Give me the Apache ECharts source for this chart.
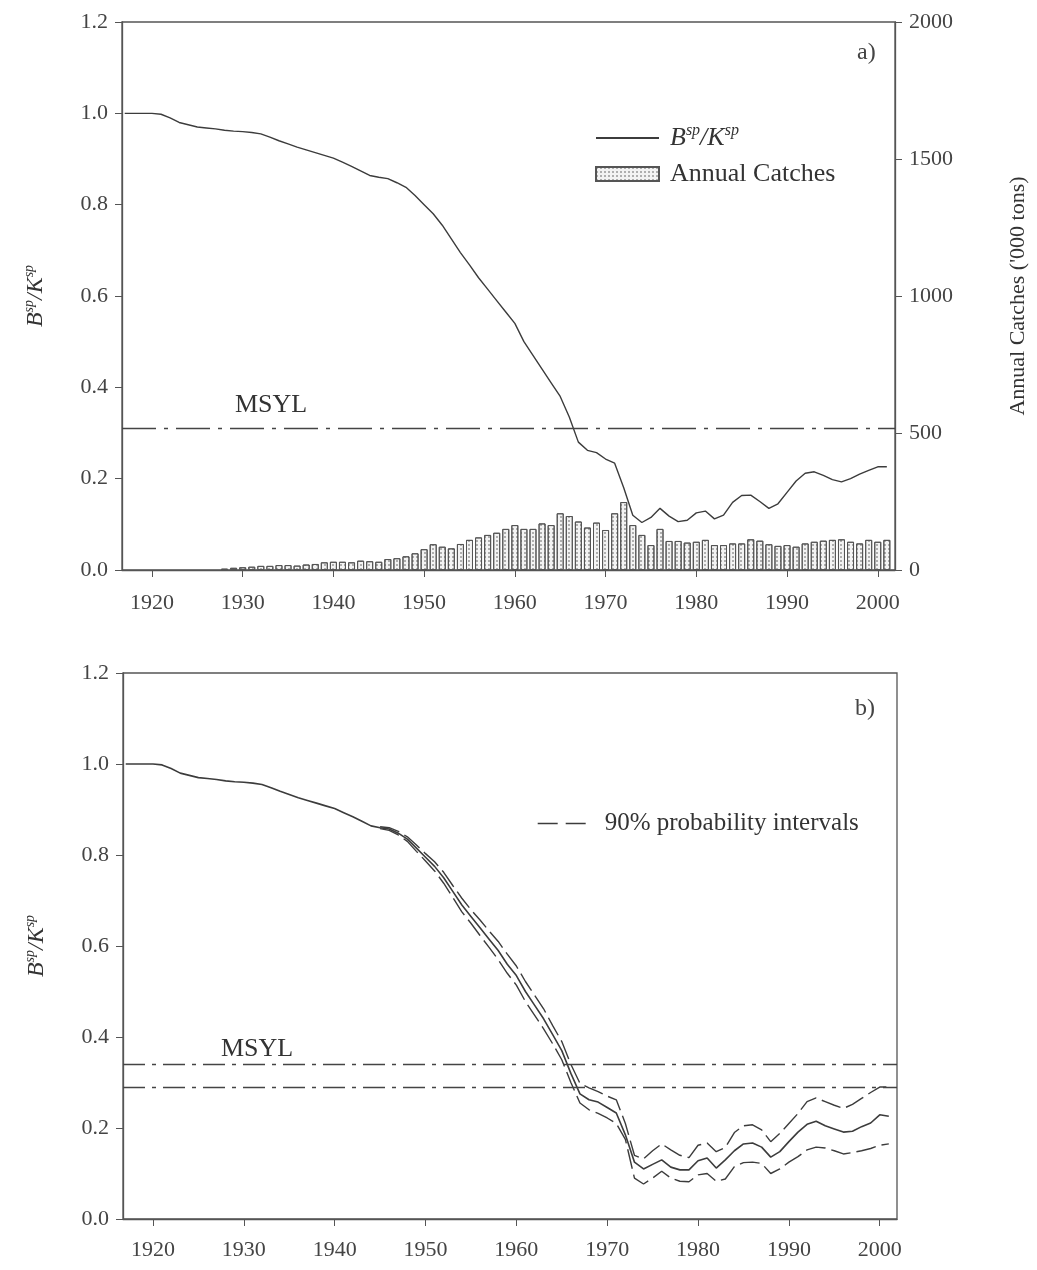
<!DOCTYPE html>
<html>
<head>
<meta charset="utf-8">
<script src="https://cdn.jsdelivr.net/npm/echarts@6/dist/echarts.min.js"></script>
<style>
html,body{margin:0;padding:0;background:#fff;}
#chart{width:1037px;height:1270px;}
</style>
</head>
<body>
<div id="chart"></div>
<script>
// ---------- DATA ----------
var yearTicks = [1920,1930,1940,1950,1960,1970,1980,1990,2000];
var bkYears = [];
for (var y = 1917; y <= 2001; y++) bkYears.push(y);

// panel a) B^sp/K^sp, 1917..2001
var bkA = [1.0,1.0,1.0,1.0,0.998,0.99,0.98,0.975,0.97,0.968,0.966,0.963,0.961,0.96,0.958,0.955,0.948,0.94,0.933,0.926,0.92,0.914,0.908,0.902,0.893,0.884,0.874,0.864,0.86,0.857,0.848,0.838,0.82,0.80,0.78,0.755,0.725,0.695,0.668,0.64,0.615,0.59,0.565,0.54,0.50,0.47,0.44,0.41,0.38,0.335,0.28,0.262,0.257,0.243,0.234,0.18,0.12,0.104,0.115,0.135,0.118,0.106,0.109,0.125,0.129,0.112,0.12,0.148,0.163,0.164,0.15,0.135,0.145,0.17,0.195,0.212,0.215,0.207,0.198,0.193,0.2,0.21,0.218,0.226,0.226];

// annual catches ('000 tons), 1928..2001
var catchYears = [];
for (var c = 1928; c <= 2001; c++) catchYears.push(c);
var catches = [5,8,10,12,15,15,18,18,16,20,22,28,30,30,28,34,32,30,40,43,50,61,76,94,85,79,95,110,119,128,136,150,164,150,150,170,164,207,197,177,155,173,146,207,248,164,128,91,150,106,106,100,103,110,91,91,97,97,112,107,94,88,91,85,97,103,107,110,112,103,97,110,103,110];

// panel b) median, 1917..2001
var bkB = [1.0,1.0,1.0,1.0,0.998,0.99,0.98,0.975,0.97,0.968,0.966,0.963,0.961,0.96,0.958,0.955,0.948,0.94,0.933,0.926,0.92,0.914,0.908,0.902,0.893,0.884,0.874,0.864,0.86,0.857,0.848,0.835,0.815,0.795,0.775,0.75,0.72,0.69,0.665,0.64,0.615,0.59,0.56,0.535,0.5,0.47,0.44,0.405,0.37,0.32,0.275,0.262,0.257,0.245,0.233,0.185,0.125,0.11,0.12,0.13,0.114,0.108,0.108,0.128,0.134,0.112,0.13,0.15,0.165,0.167,0.158,0.136,0.148,0.17,0.191,0.208,0.215,0.205,0.198,0.191,0.193,0.203,0.211,0.229,0.226];

// 90% probability intervals, 1945..2001
var ciYears = [];
for (var k = 1945; k <= 2001; k++) ciYears.push(k);
var ciUpper = [0.862,0.86,0.852,0.84,0.822,0.803,0.785,0.762,0.733,0.705,0.68,0.657,0.633,0.61,0.582,0.556,0.522,0.492,0.462,0.425,0.39,0.34,0.298,0.288,0.28,0.27,0.262,0.21,0.14,0.132,0.15,0.165,0.152,0.14,0.135,0.162,0.167,0.148,0.157,0.19,0.205,0.207,0.196,0.17,0.188,0.21,0.232,0.258,0.266,0.258,0.25,0.243,0.252,0.265,0.278,0.29,0.29];
var ciLower = [0.858,0.854,0.844,0.83,0.808,0.787,0.765,0.738,0.707,0.675,0.65,0.623,0.597,0.57,0.54,0.514,0.478,0.448,0.418,0.385,0.35,0.3,0.255,0.24,0.232,0.222,0.21,0.175,0.09,0.077,0.09,0.105,0.09,0.083,0.082,0.097,0.1,0.083,0.088,0.115,0.124,0.125,0.122,0.1,0.11,0.125,0.137,0.152,0.158,0.156,0.15,0.143,0.146,0.15,0.155,0.162,0.165];

var msylA = 0.313;
var msylB = [0.338, 0.286];

// ---------- CHART ----------
function pairs(xs, ys){ return xs.map(function(x,i){ return [x, ys[i]]; }); }

var FONT = 'Liberation Serif';
var INK = '#3c3c3c';
var AXC = '#555';
var CI_DASH = [20,6];
var HIDDEN_SYMBOL = {color:'rgba(0,0,0,0)', borderColor:'rgba(0,0,0,0)', borderWidth:0, opacity:0};
var bkName = '{i|B}{s|sp}{i|/K}{s|sp}';
function bkRich(sz){
  return {
    i:{fontFamily:FONT, fontStyle:'italic', fontSize:sz, color:'#333', lineHeight:sz+4, verticalAlign:'middle'},
    s:{fontFamily:FONT, fontStyle:'italic', fontSize:Math.round(sz*0.6), color:'#333', lineHeight:Math.round(sz*0.6), verticalAlign:'top'}
  };
}

function xAxisCfg(gi, margin){
  return {
    type:'value', gridIndex:gi, min:1916.7, max:2001.9,
    axisLine:{lineStyle:{color:AXC, width:1.3}},
    axisTick:{customValues:yearTicks, length:7, lineStyle:{color:AXC}},
    axisLabel:{customValues:yearTicks, margin:margin, fontFamily:FONT, fontSize:22, color:'#444',
      formatter:function(v){ return String(Math.round(v)); }},
    splitLine:{show:false}
  };
}
function yAxisLeft(gi){
  return {
    type:'value', gridIndex:gi, min:0, max:1.2, interval:0.2,
    name:bkName, nameLocation:'middle', nameRotate:90, nameGap:72,
    nameTextStyle:{rich:bkRich(24)},
    axisLine:{show:true, lineStyle:{color:AXC, width:1.3}},
    axisTick:{show:true, length:7, lineStyle:{color:AXC}},
    axisLabel:{margin:14, fontFamily:FONT, fontSize:22, color:'#444', formatter:function(v){return v.toFixed(1);}},
    splitLine:{show:false}
  };
}

var option = {
  animation:false,
  backgroundColor:'#fff',
  title:[
    {text:'a)', left:852, top:36, textStyle:{fontFamily:FONT, fontWeight:'normal', fontSize:24, color:'#444'}},
    {text:'b)', left:850, top:692, textStyle:{fontFamily:FONT, fontWeight:'normal', fontSize:24, color:'#444'}}
  ],
  grid:[
    {left:122, top:22, width:773, height:548, show:true, borderColor:AXC, borderWidth:1.3, containLabel:false, outerBoundsMode:'none'},
    {left:123, top:673, width:774, height:546, show:true, borderColor:AXC, borderWidth:1.3, containLabel:false, outerBoundsMode:'none'}
  ],
  legend:[
    {
      orient:'vertical', left:590, top:118, itemWidth:63, itemHeight:14, itemGap:10,
      data:[{name:'bk', itemStyle:HIDDEN_SYMBOL}, {name:'Annual Catches', icon:'rect'}],
      formatter:function(n){ return n === 'bk' ? bkName : n; },
      textStyle:{fontFamily:FONT, fontSize:26, color:'#333', padding:[0,0,0,6], rich:bkRich(26)}
    },
    {
      orient:'horizontal', left:532, top:806, itemWidth:48, itemHeight:14,
      data:[{name:'90% probability intervals', itemStyle:HIDDEN_SYMBOL}],
      lineStyle:{color:INK, width:1.4, type:[20,8]},
      textStyle:{fontFamily:FONT, fontSize:25, color:'#333', padding:[0,0,0,14]}
    }
  ],
  xAxis:[ xAxisCfg(0, 22), xAxisCfg(1, 20) ],
  yAxis:[
    yAxisLeft(0),
    {
      type:'value', gridIndex:0, min:0, max:2000, interval:500, position:'right',
      name:"Annual Catches ('000 tons)", nameLocation:'middle', nameRotate:90, nameGap:112,
      nameTextStyle:{fontFamily:FONT, fontSize:22, color:'#333'},
      axisLine:{show:true, lineStyle:{color:AXC, width:1.3}},
      axisTick:{show:true, length:7, lineStyle:{color:AXC}},
      axisLabel:{margin:14, fontFamily:FONT, fontSize:22, color:'#444', formatter:function(v){ return String(v); }},
      splitLine:{show:false}
    },
    yAxisLeft(1)
  ],
  series:[
    {
      name:'Annual Catches', type:'bar', xAxisIndex:0, yAxisIndex:1, barWidth:7,
      data:pairs(catchYears, catches),
      itemStyle:{color:'#f3f3f3', borderColor:'#555', borderWidth:1,
        decal:{symbol:'rect', symbolSize:1, dashArrayX:[2,2], dashArrayY:[2,2], color:'rgba(0,0,0,0.28)'}},
      z:2
    },
    {
      name:'bk', type:'line', xAxisIndex:0, yAxisIndex:0, symbol:'none', showSymbol:false,
      data:pairs(bkYears, bkA),
      lineStyle:{color:INK, width:1.4}, itemStyle:{color:INK},
      z:3,
      markLine:{
        silent:true, symbol:'none',
        lineStyle:{color:'#444', width:1.3, type:[34,8,4,8]},
        label:{show:true, formatter:'MSYL', position:'insideStartTop', distance:[113,10],
          fontFamily:FONT, fontSize:26, color:'#333'},
        data:[{yAxis:msylA}]
      }
    },
    {
      name:'median', type:'line', xAxisIndex:1, yAxisIndex:2, symbol:'none', showSymbol:false,
      data:pairs(bkYears, bkB),
      lineStyle:{color:INK, width:1.6}, itemStyle:{color:INK},
      z:3,
      markLine:{
        silent:true, symbol:'none',
        lineStyle:{color:'#444', width:1.3, type:[22,7,4,7]},
        label:{show:false},
        data:[
          {yAxis:msylB[0], label:{show:true, formatter:'MSYL', position:'insideStartTop', distance:[98,2],
            fontFamily:FONT, fontSize:26, color:'#333'}},
          {yAxis:msylB[1]}
        ]
      }
    },
    {
      name:'90% probability intervals', type:'line', xAxisIndex:1, yAxisIndex:2, symbol:'none', showSymbol:false,
      data:pairs(ciYears, ciUpper),
      lineStyle:{color:INK, width:1.4, type:CI_DASH}, itemStyle:{color:INK}, z:3
    },
    {
      name:'90% probability intervals', type:'line', xAxisIndex:1, yAxisIndex:2, symbol:'none', showSymbol:false,
      data:pairs(ciYears, ciLower),
      lineStyle:{color:INK, width:1.4, type:CI_DASH}, itemStyle:{color:INK}, z:3
    }
  ]
};

var chart = echarts.init(document.getElementById('chart'), null, {renderer:'canvas'});
chart.setOption(option);
</script>
</body>
</html>
